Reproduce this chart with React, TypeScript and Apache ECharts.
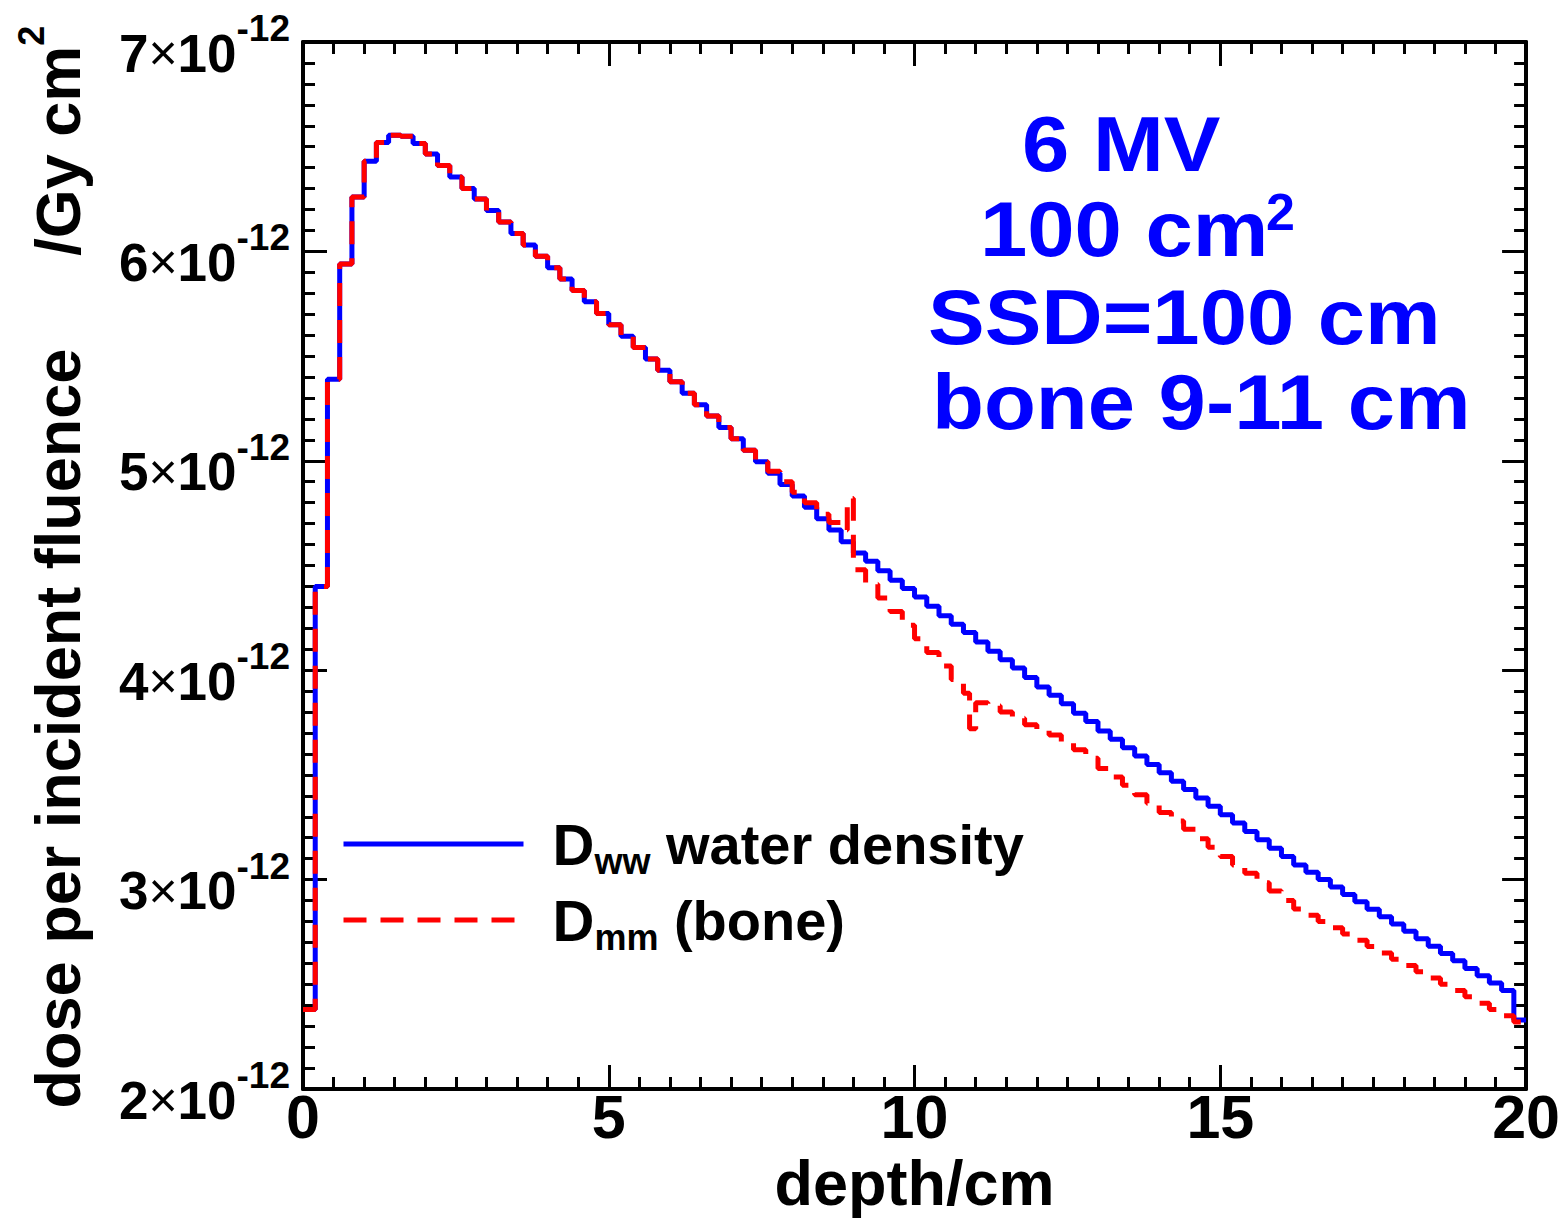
import React, { useEffect, useRef } from 'react';
import * as echarts from 'echarts';

// Depth-dose, 6 MV, 100 cm^2, SSD = 100 cm, bone slab 9-11 cm (values in units of 1e-12 Gy cm^2)
const BIN = 0.2;
const waterDose = [
  2.38, 4.40, 5.39, 5.94, 6.26, 6.43, 6.52, 6.555, 6.55, 6.515,
  6.465, 6.41, 6.355, 6.30, 6.25, 6.195, 6.14, 6.086, 6.031, 5.977,
  5.922, 5.868, 5.813, 5.759, 5.704, 5.65, 5.595, 5.541, 5.486, 5.432,
  5.377, 5.323, 5.268, 5.214, 5.159, 5.105, 5.05, 4.996, 4.941, 4.887,
  4.832, 4.778, 4.723, 4.669, 4.614, 4.56, 4.52, 4.475, 4.43, 4.39,
  4.35, 4.305, 4.26, 4.22, 4.18, 4.135, 4.09, 4.05, 4.01, 3.965,
  3.92, 3.88, 3.84, 3.795, 3.755, 3.71, 3.67, 3.63, 3.59, 3.55,
  3.51, 3.47, 3.43, 3.39, 3.35, 3.31, 3.27, 3.23, 3.19, 3.15,
  3.11, 3.07, 3.035, 3.00, 2.965, 2.929, 2.894, 2.859, 2.823, 2.788,
  2.753, 2.718, 2.682, 2.647, 2.612, 2.576, 2.541, 2.506, 2.47, 2.33,
];
const boneDepth = [
  0.0, 0.2, 0.4, 0.6, 0.8, 1.0, 1.2, 1.4, 1.6, 1.8,
  2.0, 2.2, 2.4, 2.6, 2.8, 3.0, 3.2, 3.4, 3.6, 3.8,
  4.0, 4.2, 4.4, 4.6, 4.8, 5.0, 5.2, 5.4, 5.6, 5.8,
  6.0, 6.2, 6.4, 6.6, 6.8, 7.0, 7.2, 7.4, 7.6, 7.8,
  8.0, 8.2, 8.4, 8.6, 8.8, 8.9, 9.0, 9.2, 9.4, 9.6,
  9.8, 10.0, 10.2, 10.4, 10.6, 10.8, 10.9, 11.0, 11.2, 11.4,
  11.6, 11.8, 12.0, 12.2, 12.4, 12.6, 12.8, 13.0, 13.2, 13.4,
  13.6, 13.8, 14.0, 14.2, 14.4, 14.6, 14.8, 15.0, 15.2, 15.4,
  15.6, 15.8, 16.0, 16.2, 16.4, 16.6, 16.8, 17.0, 17.2, 17.4,
  17.6, 17.8, 18.0, 18.2, 18.4, 18.6, 18.8, 19.0, 19.2, 19.4,
  19.6, 19.8, 20.0,
];
const boneDose = [
  2.38, 4.40, 5.39, 5.94, 6.26, 6.43, 6.52, 6.555, 6.55, 6.515,
  6.465, 6.41, 6.355, 6.30, 6.25, 6.195, 6.14, 6.086, 6.031, 5.977,
  5.922, 5.868, 5.813, 5.759, 5.704, 5.65, 5.595, 5.541, 5.486, 5.432,
  5.377, 5.323, 5.268, 5.214, 5.159, 5.105, 5.05, 4.996, 4.95, 4.90,
  4.85, 4.80, 4.745, 4.705, 4.67, 4.82, 4.48, 4.41, 4.345, 4.28,
  4.215, 4.15, 4.085, 4.02, 3.955, 3.89, 3.72, 3.845, 3.83, 3.80,
  3.77, 3.74, 3.715, 3.69, 3.655, 3.62, 3.58, 3.53, 3.49, 3.45,
  3.405, 3.365, 3.32, 3.28, 3.24, 3.195, 3.155, 3.11, 3.07, 3.03,
  2.985, 2.945, 2.90, 2.86, 2.83, 2.80, 2.77, 2.74, 2.71, 2.68,
  2.65, 2.62, 2.59, 2.56, 2.53, 2.50, 2.47, 2.44, 2.41, 2.38,
  2.35, 2.32, 2.32,
];
const seriesNames = ['Dww water density', 'Dmm (bone)'];
const annotationLines = ['6 MV', '100 cm', 'SSD=100 cm', 'bone 9-11 cm'];

const FONT = '"Liberation Sans", Arial, Helvetica, sans-serif';

export default function App() {
  const ref = useRef<HTMLDivElement>(null);
  useEffect(() => {
    if (!ref.current) return;
    const chart = echarts.init(ref.current, undefined, { renderer: 'svg' });
    const waterData: number[][] = waterDose.map((v, i) => [Number((i * BIN).toFixed(1)), v]);
    waterData.push([20, waterDose[waterDose.length - 1]]);
    const boneData = boneDepth.map((d, i) => [d, boneDose[i]]);

    const axisLine = { show: true, onZero: false, lineStyle: { color: '#000', width: 4 } };
    const tickStyle = { color: '#000', width: 3 };
    const xCommon = {
      type: 'value' as const, min: 0, max: 20, interval: 5,
      axisLine, splitLine: { show: false },
      axisTick: { show: true, inside: true, length: 24, lineStyle: tickStyle },
      minorTick: { show: true, splitNumber: 10, length: 12, lineStyle: tickStyle },
    };
    const yCommon = {
      type: 'value' as const, min: 2, max: 7, interval: 1,
      axisLine, splitLine: { show: false },
      axisTick: { show: true, inside: true, length: 24, lineStyle: tickStyle },
      minorTick: { show: true, splitNumber: 10, length: 12, lineStyle: tickStyle },
    };
    const annot = (text: string, x: number, y: number, size: number) => ({
      type: 'text', x, y, scaleY: 0.92,
      style: { text, font: `bold ${size}px ${FONT}`, fill: '#0000ff', align: 'left', verticalAlign: 'middle' },
    });

    chart.setOption({
      animation: false,
      backgroundColor: '#fff',
      grid: { left: 303, right: 36, top: 42, bottom: 132, containLabel: false },
      xAxis: [
        {
          ...xCommon, position: 'bottom',
          name: 'depth/cm', nameLocation: 'middle', nameGap: 51,
          nameTextStyle: { fontSize: 63, fontWeight: 'bold', fontFamily: FONT, color: '#000' },
          axisLabel: { show: true, margin: -3, fontSize: 61, fontWeight: 'bold', fontFamily: FONT, color: '#000' },
        },
        { ...xCommon, position: 'top', axisLabel: { show: false } },
      ],
      yAxis: [
        {
          ...yCommon, position: 'left',
          axisLabel: {
            show: true, margin: 13, color: '#000', padding: [22, 0, 0, 0],
            formatter: (v: number) => `{a|${v}}{x|×}{a|10}{b|-12}`,
            rich: {
              a: { fontSize: 53, fontWeight: 'bold', fontFamily: FONT, color: '#000', lineHeight: 86 },
              x: { fontSize: 50, fontFamily: FONT, color: '#000', lineHeight: 86 },
              b: { fontSize: 37, fontWeight: 'bold', fontFamily: FONT, color: '#000', verticalAlign: 'top', lineHeight: 37 },
            },
          },
        },
        { ...yCommon, position: 'right', axisLabel: { show: false } },
      ],
      legend: {
        show: true, orient: 'vertical', left: 341, top: 815, padding: 0,
        itemWidth: 180, itemHeight: 12, itemGap: 12,
        itemStyle: { opacity: 0 },
        lineStyle: { width: 5 },
        data: seriesNames,
        formatter: (name: string) =>
          name === seriesNames[0]
            ? '{d|D}{s|ww}{t| water density}'
            : '{d|D}{s|mm}{t| (bone)}',
        textStyle: {
          color: '#000',
          rich: {
            d: { fontSize: 58, fontWeight: 'bold', fontFamily: FONT, color: '#000', lineHeight: 70, padding: [0, 0, 0, 24] },
            s: { fontSize: 36, fontWeight: 'bold', fontFamily: FONT, color: '#000', verticalAlign: 'bottom', lineHeight: 36 },
            t: { fontSize: 56, fontWeight: 'bold', fontFamily: FONT, color: '#000', lineHeight: 70 },
          },
        },
      },
      graphic: [
        {
          type: 'text', rotation: Math.PI / 2, x: 103, y: 567,
          style: {
            text: '{t|dose per incident fluence}{g|}{t|/Gy cm}{s|2}',
            align: 'center', verticalAlign: 'bottom', fill: '#000',
            rich: {
              t: { fontSize: 63, fontWeight: 'bold', fontFamily: FONT, fill: '#000', lineHeight: 90 },
              g: { width: 93, lineHeight: 90 },
              s: { fontSize: 36, fontWeight: 'bold', fontFamily: FONT, fill: '#000', verticalAlign: 'top', lineHeight: 36 },
            },
          },
        },
        annot(annotationLines[0], 1022, 144, 85),
        annot(annotationLines[1], 980, 229, 85),
        { type: 'text', x: 1266, y: 212, style: { text: '2', font: `bold 52px ${FONT}`, fill: '#0000ff', align: 'left', verticalAlign: 'middle' } },
        annot(annotationLines[2], 928, 317, 85),
        annot(annotationLines[3], 932, 402, 85),
      ],
      series: [
        {
          name: seriesNames[0], type: 'line', step: 'end', data: waterData,
          symbol: 'none', showSymbol: false, z: 2,
          itemStyle: { color: '#0000ff' },
          lineStyle: { color: '#0000ff', width: 5 },
        },
        {
          name: seriesNames[1], type: 'line', step: 'end', data: boneData,
          symbol: 'none', showSymbol: false, z: 3,
          itemStyle: { color: '#ff0000' },
          lineStyle: { color: '#ff0000', width: 5, type: [23, 14] },
        },
      ],
    });
    return () => chart.dispose();
  }, []);
  return <div ref={ref} style={{ position: 'fixed', left: 0, top: 0, width: 1563, height: 1221, background: '#fff' }} />;
}
